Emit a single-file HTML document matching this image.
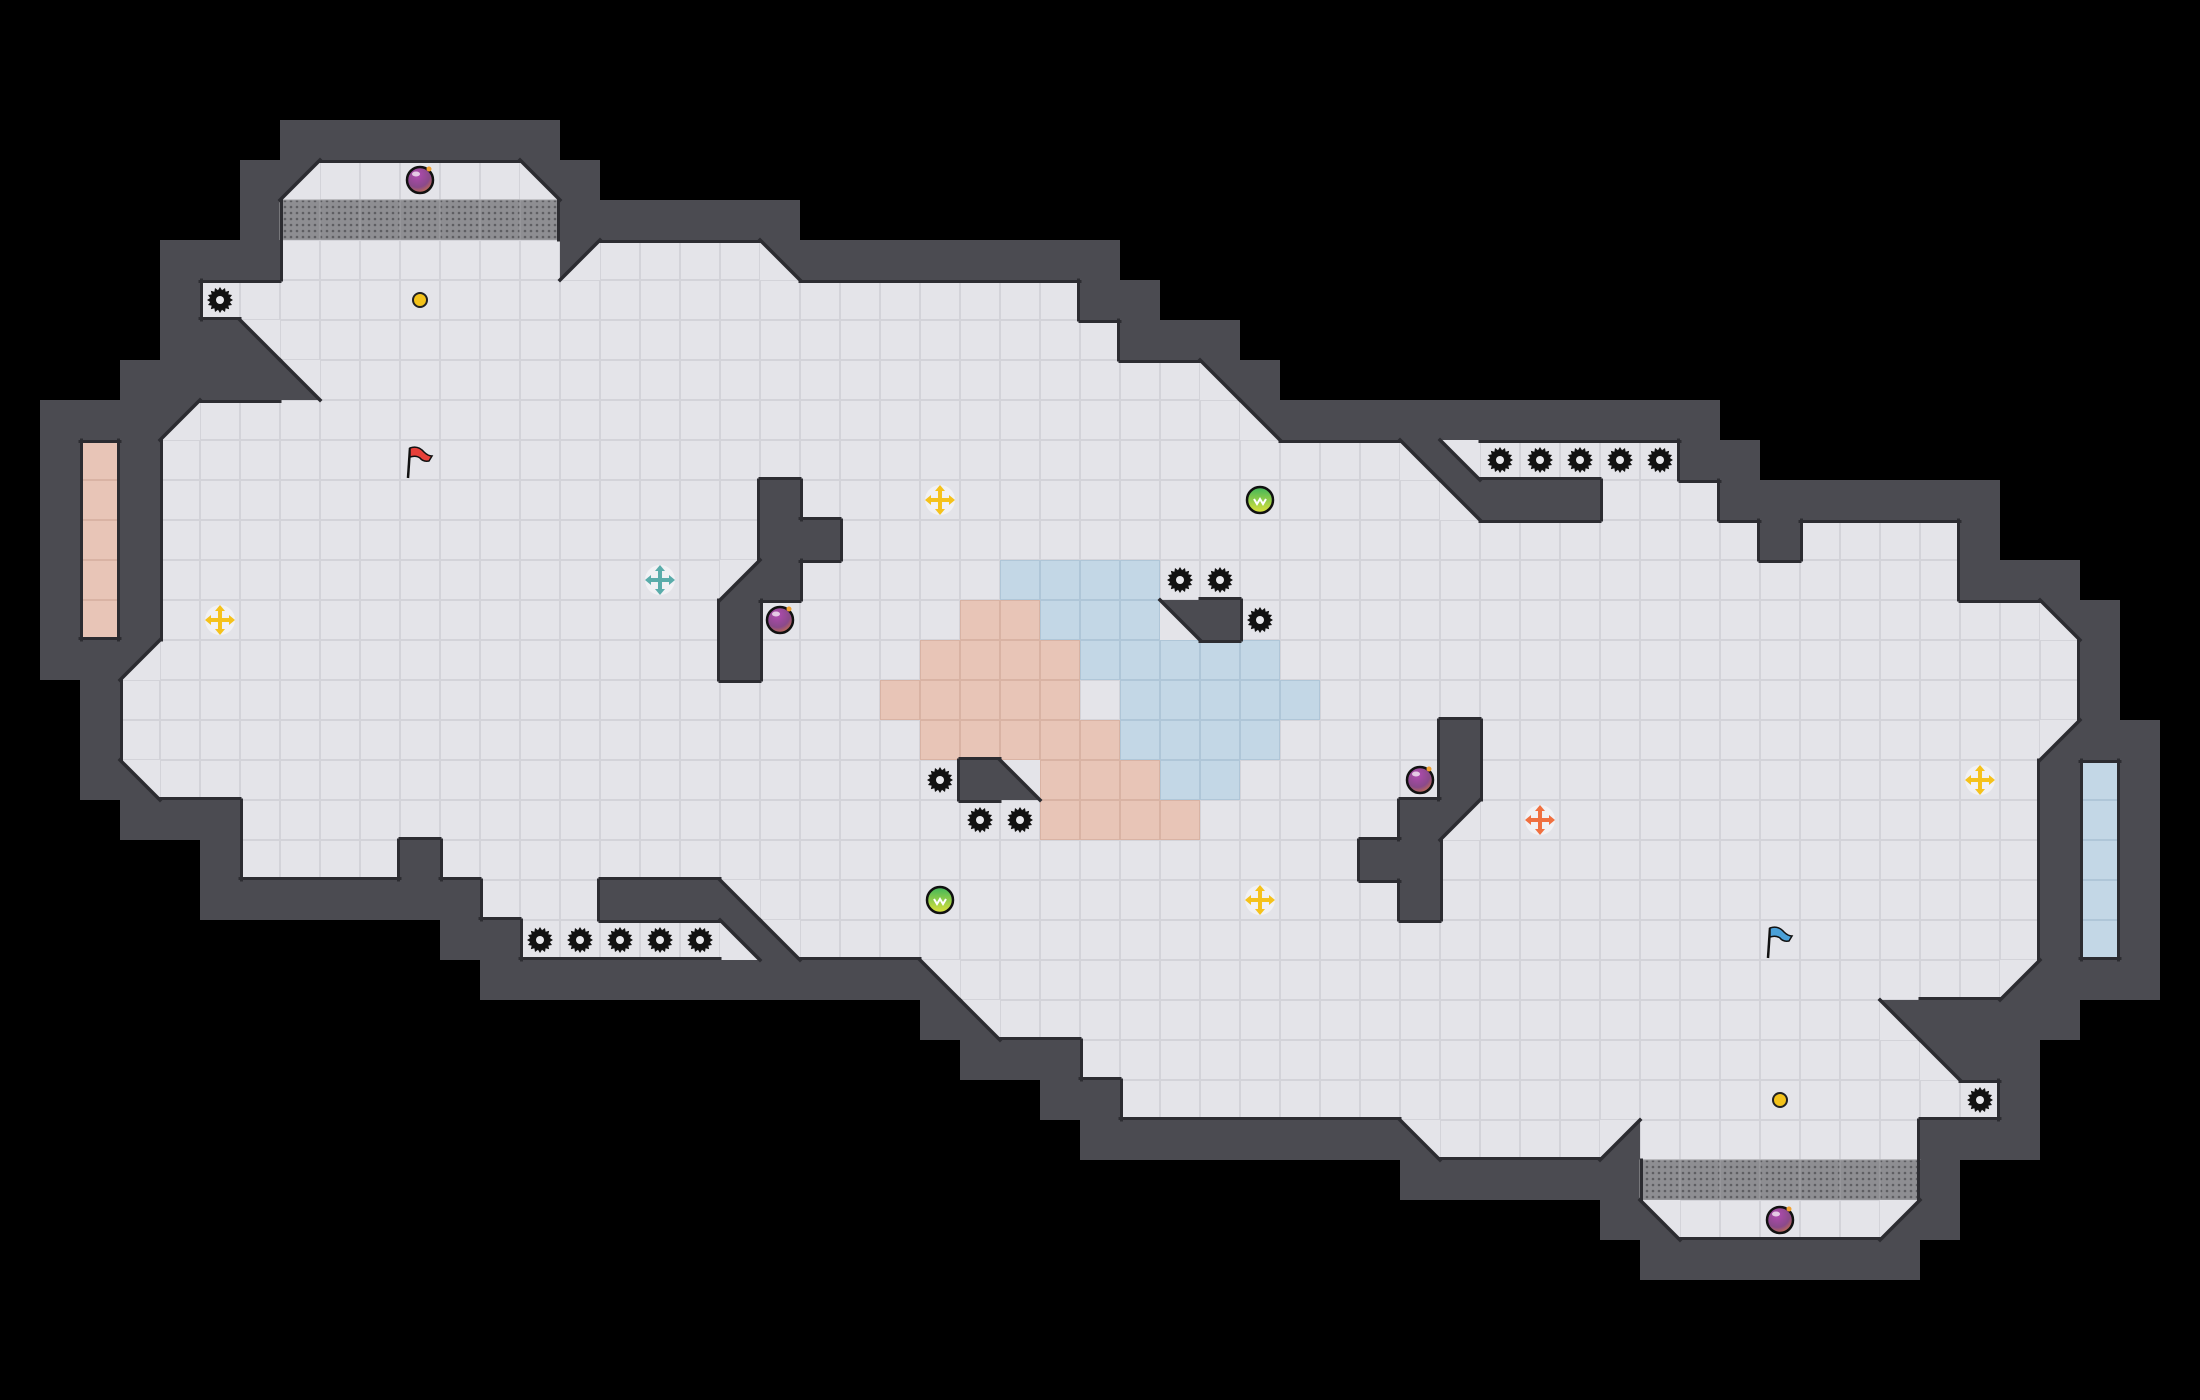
<!DOCTYPE html>
<html><head><meta charset="utf-8"><style>
html,body{margin:0;padding:0;background:#000;}
#c{display:block;}
</style></head><body>
<svg id="c" xmlns="http://www.w3.org/2000/svg" width="2200" height="1400" viewBox="0 0 2200 1400">
<defs>
<pattern id="gate" width="6" height="6" patternUnits="userSpaceOnUse">
<rect width="6" height="6" fill="#8e8e92"/><circle cx="3" cy="3" r="1.3" fill="#5e5e62"/>
</pattern>
<radialGradient id="bomb" cx="0.4" cy="0.3" r="0.8"><stop offset="0" stop-color="#b04bb0"/><stop offset="0.6" stop-color="#8a4a8a"/><stop offset="1" stop-color="#d87a3a"/></radialGradient>
<linearGradient id="grn" x1="0" y1="0" x2="0" y2="1"><stop offset="0" stop-color="#3fb65a"/><stop offset="1" stop-color="#e0e23a"/></linearGradient>
</defs>
<rect width="2200" height="1400" fill="#000"/>
<g id="g"></g>
</svg>
<script>
var S=40;
var R={
3:[[7,13,'#']],
4:[[6,6,'#'],[7,7,'q'],[8,12,'.'],[13,13,'p'],[14,14,'#']],
5:[[6,6,'#'],[7,13,'G'],[14,19,'#']],
6:[[4,6,'#'],[7,13,'.'],[14,14,'q'],[15,18,'.'],[19,19,'p'],[20,27,'#']],
7:[[4,4,'#'],[5,5,'.'],[6,26,'.'],[27,28,'#']],
8:[[4,5,'#'],[6,6,'d'],[7,27,'.'],[28,30,'#']],
9:[[3,6,'#'],[7,7,'d'],[8,29,'.'],[30,30,'p'],[31,31,'#']],
10:[[1,3,'#'],[4,4,'q'],[5,30,'.'],[31,31,'p'],[32,42,'#']],
11:[[1,1,'#'],[2,2,'R'],[3,3,'#'],[4,34,'.'],[35,35,'p'],[36,36,'d'],[37,41,'.'],[42,43,'#']],
12:[[1,1,'#'],[2,2,'R'],[3,3,'#'],[4,18,'.'],[19,19,'#'],[20,35,'.'],[36,36,'p'],[37,39,'#'],[40,42,'.'],[43,49,'#']],
13:[[1,1,'#'],[2,2,'R'],[3,3,'#'],[4,18,'.'],[19,20,'#'],[21,43,'.'],[44,44,'#'],[45,48,'.'],[49,49,'#']],
14:[[1,1,'#'],[2,2,'R'],[3,3,'#'],[4,17,'.'],[18,18,'b'],[19,19,'#'],[20,24,'.'],[25,28,'B'],[29,48,'.'],[49,51,'#']],
15:[[1,1,'#'],[2,2,'R'],[3,3,'#'],[4,17,'.'],[18,18,'#'],[19,23,'.'],[24,25,'R'],[26,28,'B'],[29,29,'p'],[30,30,'#'],[31,50,'.'],[51,51,'p'],[52,52,'#']],
16:[[1,2,'#'],[3,3,'q'],[4,17,'.'],[18,18,'#'],[19,22,'.'],[23,26,'R'],[27,31,'B'],[32,51,'.'],[52,52,'#']],
17:[[2,2,'#'],[3,21,'.'],[22,26,'R'],[27,27,'.'],[28,32,'B'],[33,51,'.'],[52,52,'#']],
18:[[2,2,'#'],[3,22,'.'],[23,27,'R'],[28,31,'B'],[32,35,'.'],[36,36,'#'],[37,50,'.'],[51,51,'b'],[52,53,'#']],
19:[[2,2,'#'],[3,3,'d'],[4,23,'.'],[24,24,'#'],[25,25,'d'],[26,28,'R'],[29,30,'B'],[31,35,'.'],[36,36,'#'],[37,50,'.'],[51,51,'#'],[52,52,'B'],[53,53,'#']],
20:[[3,5,'#'],[6,25,'.'],[26,29,'R'],[30,34,'.'],[35,35,'#'],[36,36,'q'],[37,50,'.'],[51,51,'#'],[52,52,'B'],[53,53,'#']],
21:[[5,5,'#'],[6,9,'.'],[10,10,'#'],[11,33,'.'],[34,35,'#'],[36,50,'.'],[51,51,'#'],[52,52,'B'],[53,53,'#']],
22:[[5,11,'#'],[12,14,'.'],[15,17,'#'],[18,18,'d'],[19,34,'.'],[35,35,'#'],[36,50,'.'],[51,51,'#'],[52,52,'B'],[53,53,'#']],
23:[[11,12,'#'],[13,17,'.'],[18,18,'p'],[19,19,'d'],[20,50,'.'],[51,51,'#'],[52,52,'B'],[53,53,'#']],
24:[[12,22,'#'],[23,23,'d'],[24,49,'.'],[50,50,'b'],[51,53,'#']],
25:[[23,23,'#'],[24,24,'d'],[25,46,'.'],[47,47,'p'],[48,51,'#']],
26:[[24,26,'#'],[27,47,'.'],[48,48,'p'],[49,50,'#']],
27:[[26,27,'#'],[28,49,'.'],[50,50,'#']],
28:[[27,34,'#'],[35,35,'d'],[36,39,'.'],[40,40,'b'],[41,47,'.'],[48,50,'#']],
29:[[35,40,'#'],[41,47,'G'],[48,48,'#']],
30:[[40,40,'#'],[41,41,'d'],[42,46,'.'],[47,47,'b'],[48,48,'#']],
31:[[41,47,'#']]
};
var M=[];for(var r=0;r<35;r++){M[r]=[];for(var c=0;c<55;c++)M[r][c]=' ';}
for(var k in R){R[k].forEach(function(s){for(var c=s[0];c<=s[1];c++)M[+k][c]=s[2];});}
var out=[];
var WALL='#4b4b51',WE='#2c2c31';
function rect(x,y,w,h,f,st){out.push('<rect x="'+x+'" y="'+y+'" width="'+w+'" height="'+h+'" fill="'+f+'"'+(st?' stroke="'+st+'" stroke-width="1"':'')+'/>');}
function poly(p,f,st,sw){out.push('<polygon points="'+p+'" fill="'+f+'"'+(st?' stroke="'+st+'" stroke-width="'+sw+'"':'')+'/>');}
function line(a,b,c,d,col,w){out.push('<line x1="'+a+'" y1="'+b+'" x2="'+c+'" y2="'+d+'" stroke="'+col+'" stroke-width="'+w+'" stroke-linecap="square"/>');}
var FLOOR={'.':'#e4e4e9','R':'#e8c5b7','B':'#c3d7e6'};
for(var r=0;r<35;r++)for(var c=0;c<55;c++){
 var t=M[r][c],x=c*S,y=r*S;
 if(t==' ')continue;
 if(t=='#'){rect(x,y,S,S,WALL);continue;}
 if(t=='G'){rect(x,y,S,S,'url(#gate)','#a0a0a4');continue;}
 if(FLOOR[t]){rect(x+0.5,y+0.5,S-1,S-1,FLOOR[t],t=='.'?'#d3d3d9':(t=='R'?'#d9b3a4':'#afc6d8'));continue;}
 rect(x,y,S,S,WALL);
 var p;
 if(t=='q')p=[x+S,y,x+S,y+S,x,y+S];
 if(t=='p')p=[x,y,x,y+S,x+S,y+S];
 if(t=='d')p=[x,y,x+S,y,x+S,y+S];
 if(t=='b')p=[x,y,x+S,y,x,y+S];
 poly(p.join(','),'#e4e4e9');
}
function isF(t){return t=='.'||t=='R'||t=='B'||t=='G';}
function isW(t){return t=='#';}
// edges
for(var r=0;r<35;r++)for(var c=0;c<55;c++){
 var t=M[r][c],x=c*S,y=r*S;
 if(isF(t)){
  if(r>0&&isW(M[r-1][c]))line(x,y+1.5,x+S,y+1.5,WE,3);
  if(r<34&&isW(M[r+1][c]))line(x,y+S-1.5,x+S,y+S-1.5,WE,3);
  if(c>0&&isW(M[r][c-1]))line(x+1.5,y,x+1.5,y+S,WE,3);
  if(c<54&&isW(M[r][c+1]))line(x+S-1.5,y,x+S-1.5,y+S,WE,3);
 }
 if(t=='q'||t=='b')line(x+S,y,x,y+S,WE,3.5);
 if(t=='p'||t=='d')line(x,y,x+S,y+S,WE,3.5);
}
function spike(c,r){var cx=c*S+20,cy=r*S+20,pts=[];for(var i=0;i<32;i++){var a=i*Math.PI/16,rr=(i%2==0)?13:10;pts.push((cx+rr*Math.cos(a)).toFixed(1)+','+(cy+rr*Math.sin(a)).toFixed(1));}
 poly(pts.join(' '),'#111');out.push('<circle cx="'+cx+'" cy="'+cy+'" r="4" fill="#e8e8ec"/>');}
function bomb(c,r){var cx=c*S+20,cy=r*S+20;out.push('<circle cx="'+cx+'" cy="'+cy+'" r="13" fill="url(#bomb)" stroke="#111" stroke-width="2.5"/><ellipse cx="'+(cx-4)+'" cy="'+(cy-6)+'" rx="4" ry="2.5" fill="#fff" opacity="0.7"/><circle cx="'+(cx+9)+'" cy="'+(cy-11)+'" r="2.5" fill="#f0a030"/>');}
function dot(c,r){var cx=c*S+20,cy=r*S+20;out.push('<circle cx="'+cx+'" cy="'+cy+'" r="7" fill="#f3c21a" stroke="#222" stroke-width="2"/>');}
function green(c,r){var cx=c*S+20,cy=r*S+20;out.push('<circle cx="'+cx+'" cy="'+cy+'" r="13" fill="url(#grn)" stroke="#111" stroke-width="2.5"/><path d="M'+(cx-6)+' '+(cy-1)+' l3 5 l3 -5 l3 5 l3 -5" fill="none" stroke="#fff" stroke-width="2"/>');}
function boost(c,r,col){var cx=c*S+20,cy=r*S+20;var s='<circle cx="'+cx+'" cy="'+cy+'" r="15" fill="#f4f4f6" opacity="0.8"/>';
 s+='<line x1="'+(cx-11)+'" y1="'+cy+'" x2="'+(cx+11)+'" y2="'+cy+'" stroke="'+col+'" stroke-width="4"/><line x1="'+cx+'" y1="'+(cy-11)+'" x2="'+cx+'" y2="'+(cy+11)+'" stroke="'+col+'" stroke-width="4"/>';
 [[0,-1],[0,1],[-1,0],[1,0]].forEach(function(d){var tx=cx+d[0]*15,ty=cy+d[1]*15,bx=cx+d[0]*9,by=cy+d[1]*9,px=-d[1]*5,py=d[0]*5;
  s+='<polygon points="'+tx+','+ty+' '+(bx+px)+','+(by+py)+' '+(bx-px)+','+(by-py)+'" fill="'+col+'"/>';});
 out.push(s);}
function flag(c,r,col){var x=c*S+8,y=r*S+4;out.push('<line x1="'+(x+2)+'" y1="'+(y+4)+'" x2="'+x+'" y2="'+(y+34)+'" stroke="#111" stroke-width="2.5"/><path d="M'+(x+2)+' '+(y+4)+' q8 -3 14 4 q4 4 8 4 l-3 5 q-6 1 -9 -3 q-4 -3 -10 -1 z" fill="'+col+'" stroke="#111" stroke-width="1.5"/>');}
[[5,7],[37,11],[38,11],[39,11],[40,11],[41,11],[29,14],[30,14],[31,15],[23,19],[24,20],[25,20],[13,23],[14,23],[15,23],[16,23],[17,23],[49,27]].forEach(function(a){spike(a[0],a[1]);});
[[10,4],[19,15],[35,19],[44,30]].forEach(function(a){bomb(a[0],a[1]);});
dot(10,7);dot(44,27);
green(31,12);green(23,22);
boost(23,12,'#f5c21b');boost(5,15,'#f5c21b');boost(31,22,'#f5c21b');boost(49,19,'#f5c21b');
boost(16,14,'#5aacaa');boost(38,20,'#f07040');
flag(10,11,'#e8403a');flag(44,23,'#4aa0d8');
document.getElementById('g').innerHTML=out.join('');
</script>
</body></html>
